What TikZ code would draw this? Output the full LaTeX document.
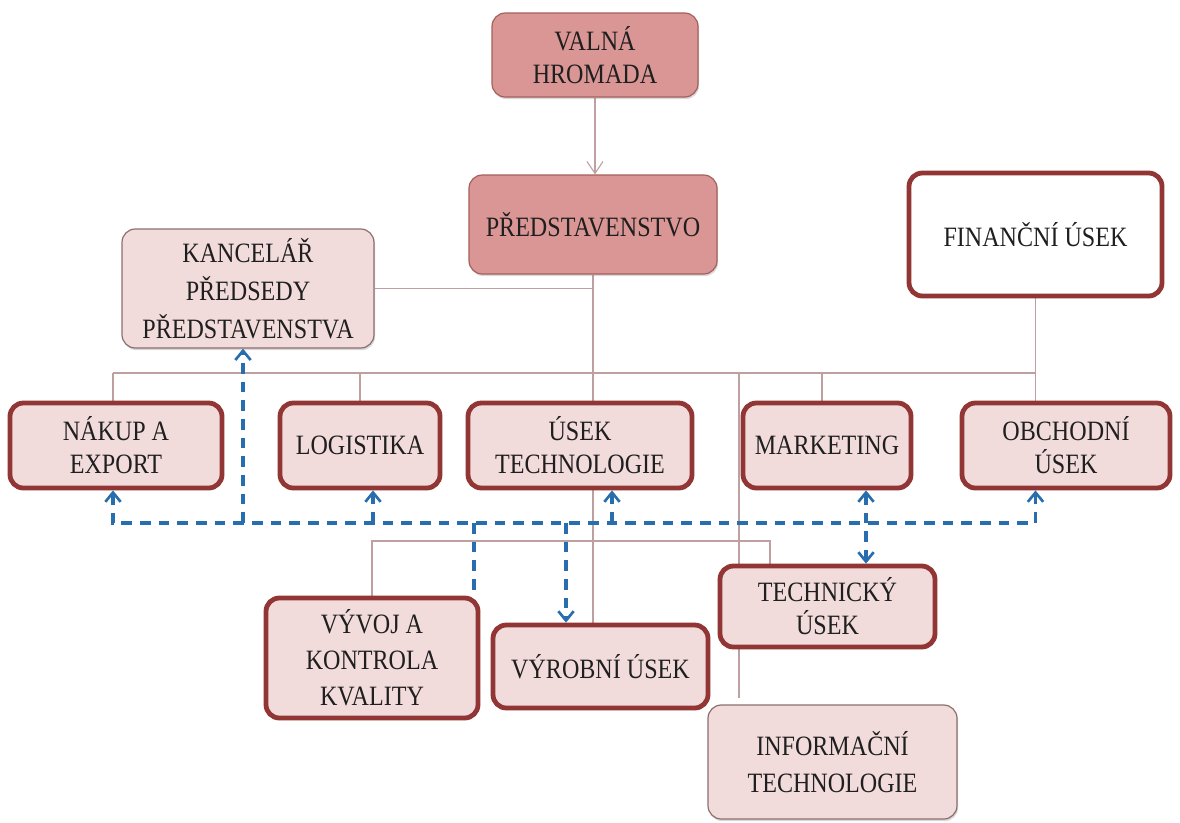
\documentclass[tikz,border=0pt]{standalone}
\usepackage{fontspec}
\setmainfont{Liberation Serif}[FakeStretch=0.86]
\usetikzlibrary{arrows.meta,shadows,backgrounds}

\definecolor{darkred}{RGB}{145,54,52}
\definecolor{lightpink}{RGB}{242,220,219}
\definecolor{rosefill}{RGB}{217,150,148}
\definecolor{roseline}{RGB}{165,95,93}
\definecolor{softline}{RGB}{140,110,110}
\definecolor{linkgrey}{RGB}{190,160,160}
\definecolor{dashblue}{RGB}{40,110,175}

\tikzset{
  sz/.style 2 args={minimum width=#1*0.75pt, minimum height=#2*0.75pt},
  unit/.style={rectangle, rounded corners=10pt, align=center, inner sep=2pt,
    font=\fontsize{21}{24.75}\selectfont, text=black!88},
  softshadow/.style={drop shadow={shadow xshift=0.8pt, shadow yshift=-1.6pt, opacity=0.3}},
  headbox/.style={unit, fill=rosefill, draw=roseline, line width=0.9pt, softshadow},
  softbox/.style={unit, fill=lightpink, draw=softline, line width=0.9pt, softshadow},
  deptbox/.style={unit, fill=lightpink, draw=darkred, line width=3.6pt, softshadow},
  finbox/.style={unit, fill=white, draw=darkred, line width=3.6pt, softshadow},
  link/.style={draw=linkgrey, line width=0.8pt},
  linkarrow/.style={link, -{Straight Barb[length=9pt,width=12pt]}},
  dashlink/.style={draw=dashblue, line width=2.5pt, dash pattern=on 8pt off 6pt,
    >={Straight Barb[length=7pt,width=11.5pt,line width=2pt]}},
}

\begin{document}
\begin{tikzpicture}[x=0.75pt, y=-0.75pt]
\useasboundingbox (0,0) rectangle (1180,822);

% management
\node[headbox, sz={206}{84}] (valna) at (595,55) {VALNÁ\\HROMADA};
\node[headbox, sz={248}{99}] (pred) at (593,224.5) {PŘEDSTAVENSTVO};
\node[softbox, sz={252}{119}, font=\fontsize{21}{28.5}\selectfont] (kanc) at (248,288.5)
  {KANCELÁŘ\\PŘEDSEDY\\PŘEDSTAVENSTVA};
\node[finbox, sz={253}{123}] (fin) at (1035.5,234.5) {FINANČNÍ ÚSEK};

% departments
\node[deptbox, sz={212}{85}] (nakup) at (116,445.5) {NÁKUP A\\EXPORT};
\node[deptbox, sz={160}{85}] (logi) at (360,445.5) {LOGISTIKA};
\node[deptbox, sz={224}{85}] (usek) at (580,445.5) {ÚSEK\\TECHNOLOGIE};
\node[deptbox, sz={168}{85}] (mark) at (827,445.5) {MARKETING};
\node[deptbox, sz={208}{85}] (obch) at (1066,445.5) {OBCHODNÍ\\ÚSEK};

% sections
\node[deptbox, sz={212}{120}, font=\fontsize{21}{27}\selectfont] (vyvoj) at (372,658)
  {VÝVOJ A\\KONTROLA\\KVALITY};
\node[deptbox, sz={215}{83}] (vyrob) at (600.5,666.5) {VÝROBNÍ ÚSEK};
\node[deptbox, sz={215}{81}] (tech) at (827.5,606.5) {TECHNICKÝ\\ÚSEK};
\node[softbox, sz={249}{114}, font=\fontsize{21}{27.75}\selectfont] (it) at (832.5,762)
  {INFORMAČNÍ\\TECHNOLOGIE};

% junction points
\coordinate (busL) at (113,373);
\coordinate (busR) at (fin.south |- busL);
\coordinate (busIT) at (739,373);
\coordinate (subL) at (vyvoj.north |- 0,541);
\coordinate (subR) at (770,541);
\coordinate (dashL) at (113,523);
\coordinate (dashR) at (fin.south |- dashL);
\coordinate (dKanc) at (243,523);
\coordinate (dLogi) at (373,523);
\coordinate (dVyvoj) at (474,523);
\coordinate (dVyrob) at (566,523);
\coordinate (dUsek) at (612,523);
\coordinate (dMark) at (866,523);

\begin{pgfonlayer}{background}
  % reporting lines
  \draw[linkarrow] (valna.south) -- (valna.south |- pred.north);
  \draw[link] (pred.south) -- (pred.south |- usek.north);
  \draw[link] (kanc.east) -- (kanc.east -| pred.south);
  \draw[link] (busL) -- (busR);
  \draw[link] (busL) -- (busL |- nakup.north);
  \draw[link] (logi.north |- busL) -- (logi.north);
  \draw[link] (mark.north -| 822,0) -- (822,373);
  \draw[link] (fin.south) -- (busR |- obch.north);
  \draw[link] (busIT) -- ([yshift=5pt]busIT |- it.north);
  \draw[link] (pred.south |- usek.south) -- (pred.south |- vyrob.north);
  \draw[link] (vyvoj.north) -- (subL) -- (subR) -- (subR |- tech.north);

  % cooperation links
  \draw[dashlink, <->] (dashL |- nakup.south) -- (dashL) -- (dashR) -- (dashR |- obch.south);
  \draw[dashlink, ->] (dKanc) -- (dKanc |- kanc.south);
  \draw[dashlink, ->] (dLogi) -- (dLogi |- logi.south);
  \draw[dashlink] (dVyvoj) -- (dVyvoj |- vyvoj.north);
  \draw[dashlink, ->] (dVyrob) -- (dVyrob |- vyrob.north);
  \draw[dashlink, ->] (dUsek) -- (dUsek |- usek.south);
  \draw[dashlink, <->] (dMark |- mark.south) -- (dMark |- tech.north);
\end{pgfonlayer}
\end{tikzpicture}
\end{document}
